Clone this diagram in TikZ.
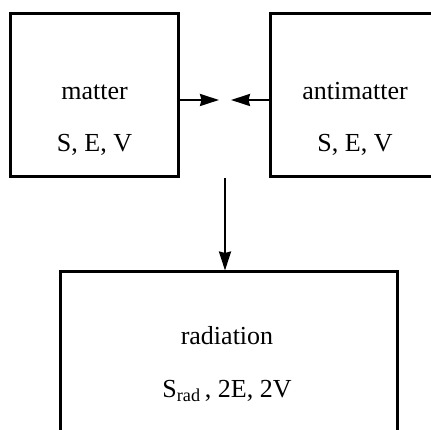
\documentclass[tikz,border=0pt]{standalone}
\usepackage{fontspec}
\setmainfont{Liberation Serif}
\usetikzlibrary{arrows.meta}
\begin{document}
\begin{tikzpicture}[x=1pt, y=1pt, >={Stealth[length=19pt, width=12pt, inset=1.5pt]}, line join=miter,
		box/.style={draw, line width=3pt, inner sep=0pt},
		txt/.style={anchor=base, font=\fontsize{26}{30}\selectfont},
		flow/.style={->, line width=2.2pt}]
			\useasboundingbox (0,0) rectangle (431,430);
			\clip (0,0) rectangle (431,430);
			\node[box, minimum width=168pt, minimum height=163pt] (mat) at (94.3,335.2) {};
			\node[box, minimum width=168pt, minimum height=163pt] (anti) at (354,335.2) {};
			\node[box, minimum width=337pt, minimum height=190pt] (rad) at (228.5,63) {};
			\node[txt] (matname) at (94.5,330) {matter};
			\node[txt] (matvars) at (94.5,278.3) {S, E, V};
			\node[txt] (antiname) at (355,330) {antimatter};
			\node[txt] (antivars) at (355,278.3) {S, E, V};
			\node[txt] (radname) at (227,85) {radiation};
			\node[txt] (radvars) at (227,32.3) {S\textsubscript{rad}\,, 2E, 2V};
			\coordinate (meet) at (225,330);
			\draw[flow] (mat.east |- meet) -- ([xshift=-6pt]meet);
			\draw[flow] (anti.west |- meet) -- ([xshift=6pt]meet);
			\draw[flow] (mat.south -| meet) -- (meet |- rad.north);
	\end{tikzpicture}
\end{document}
